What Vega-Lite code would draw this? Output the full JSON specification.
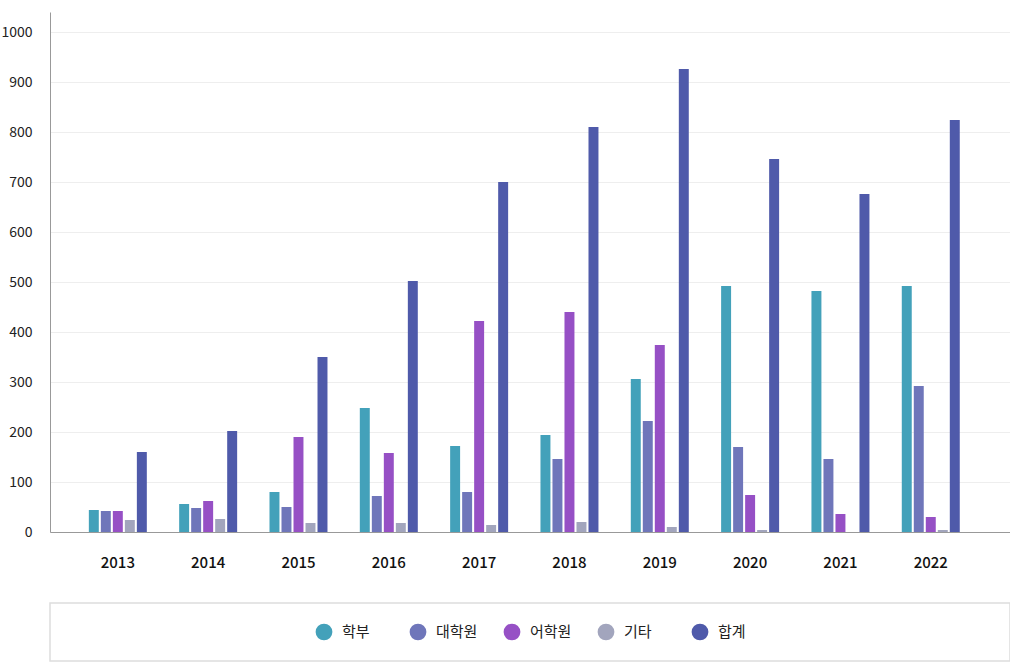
{
  "$schema": "https://vega.github.io/schema/vega-lite/v6.json",
  "padding": {"left": 0, "top": 12, "right": 0, "bottom": 4},
  "background": "white",
  "config": {"font": "Noto Sans CJK KR", "view": {"stroke": null}, "concat": {"spacing": 32}},
  "datasets": {
    "d": [
      {"year": "2013", "type": "학부", "value": 44}, {"year": "2013", "type": "대학원", "value": 42}, {"year": "2013", "type": "어학원", "value": 42}, {"year": "2013", "type": "기타", "value": 24}, {"year": "2013", "type": "합계", "value": 160},
      {"year": "2014", "type": "학부", "value": 56}, {"year": "2014", "type": "대학원", "value": 48}, {"year": "2014", "type": "어학원", "value": 62}, {"year": "2014", "type": "기타", "value": 26}, {"year": "2014", "type": "합계", "value": 202},
      {"year": "2015", "type": "학부", "value": 80}, {"year": "2015", "type": "대학원", "value": 50}, {"year": "2015", "type": "어학원", "value": 190}, {"year": "2015", "type": "기타", "value": 18}, {"year": "2015", "type": "합계", "value": 350},
      {"year": "2016", "type": "학부", "value": 248}, {"year": "2016", "type": "대학원", "value": 72}, {"year": "2016", "type": "어학원", "value": 158}, {"year": "2016", "type": "기타", "value": 18}, {"year": "2016", "type": "합계", "value": 502},
      {"year": "2017", "type": "학부", "value": 172}, {"year": "2017", "type": "대학원", "value": 80}, {"year": "2017", "type": "어학원", "value": 422}, {"year": "2017", "type": "기타", "value": 14}, {"year": "2017", "type": "합계", "value": 700},
      {"year": "2018", "type": "학부", "value": 194}, {"year": "2018", "type": "대학원", "value": 146}, {"year": "2018", "type": "어학원", "value": 440}, {"year": "2018", "type": "기타", "value": 20}, {"year": "2018", "type": "합계", "value": 810},
      {"year": "2019", "type": "학부", "value": 306}, {"year": "2019", "type": "대학원", "value": 222}, {"year": "2019", "type": "어학원", "value": 374}, {"year": "2019", "type": "기타", "value": 10}, {"year": "2019", "type": "합계", "value": 926},
      {"year": "2020", "type": "학부", "value": 492}, {"year": "2020", "type": "대학원", "value": 170}, {"year": "2020", "type": "어학원", "value": 74}, {"year": "2020", "type": "기타", "value": 4}, {"year": "2020", "type": "합계", "value": 746},
      {"year": "2021", "type": "학부", "value": 482}, {"year": "2021", "type": "대학원", "value": 146}, {"year": "2021", "type": "어학원", "value": 36}, {"year": "2021", "type": "기타", "value": 0}, {"year": "2021", "type": "합계", "value": 676},
      {"year": "2022", "type": "학부", "value": 492}, {"year": "2022", "type": "대학원", "value": 292}, {"year": "2022", "type": "어학원", "value": 30}, {"year": "2022", "type": "기타", "value": 4}, {"year": "2022", "type": "합계", "value": 824}
    ],
    "leg": [{"type": "학부"}, {"type": "대학원"}, {"type": "어학원"}, {"type": "기타"}, {"type": "합계"}]
  },
  "vconcat": [
    {
      "width": 960,
      "height": 520,
      "data": {"name": "d"},
      "mark": {"type": "bar"},
      "encoding": {
        "x": {
          "field": "year", "type": "ordinal",
          "scale": {"paddingInner": 0.358, "paddingOuter": 0.493, "align": 0.436},
          "axis": {"title": null, "labelAngle": 0, "labelFontSize": 15, "labelFontWeight": 500, "labelColor": "#111", "labelPadding": 23, "ticks": false, "domainColor": "#999", "grid": false}
        },
        "xOffset": {
          "field": "type", "type": "nominal",
          "sort": ["학부", "대학원", "어학원", "기타", "합계"],
          "scale": {"paddingInner": 0.17, "paddingOuter": 0}
        },
        "y": {
          "field": "value", "type": "quantitative",
          "scale": {"domain": [0, 1040], "nice": false},
          "axis": {"title": null, "format": "d", "values": [0, 100, 200, 300, 400, 500, 600, 700, 800, 900, 1000], "labelFontSize": 14, "labelColor": "#222", "labelPadding": 18, "ticks": false, "domainColor": "#999", "gridColor": "#eeeeee"}
        },
        "color": {
          "field": "type", "type": "nominal",
          "scale": {"domain": ["학부", "대학원", "어학원", "기타", "합계"], "range": ["#43a1ba", "#6f76ba", "#9650c5", "#a2a5bd", "#4f5aaa"]},
          "legend": null
        }
      }
    },
    {
      "width": 960,
      "height": 58,
      "data": {"name": "leg"},
      "view": {"stroke": "#dddddd", "strokeWidth": 1.5},
      "encoding": {
        "x": {
          "field": "type", "type": "nominal",
          "sort": ["학부", "대학원", "어학원", "기타", "합계"],
          "scale": {"type": "point", "padding": 0, "range": [274, 650]},
          "axis": null
        }
      },
      "layer": [
        {
          "mark": {"type": "circle", "size": 280, "opacity": 1},
          "encoding": {
            "color": {
              "field": "type", "type": "nominal",
              "scale": {"domain": ["학부", "대학원", "어학원", "기타", "합계"], "range": ["#43a1ba", "#6f76ba", "#9650c5", "#a2a5bd", "#4f5aaa"]},
              "legend": null
            }
          }
        },
        {
          "mark": {"type": "text", "align": "left", "baseline": "middle", "dx": 18, "fontSize": 15, "color": "#222"},
          "encoding": {"text": {"field": "type"}}
        }
      ]
    }
  ]
}
